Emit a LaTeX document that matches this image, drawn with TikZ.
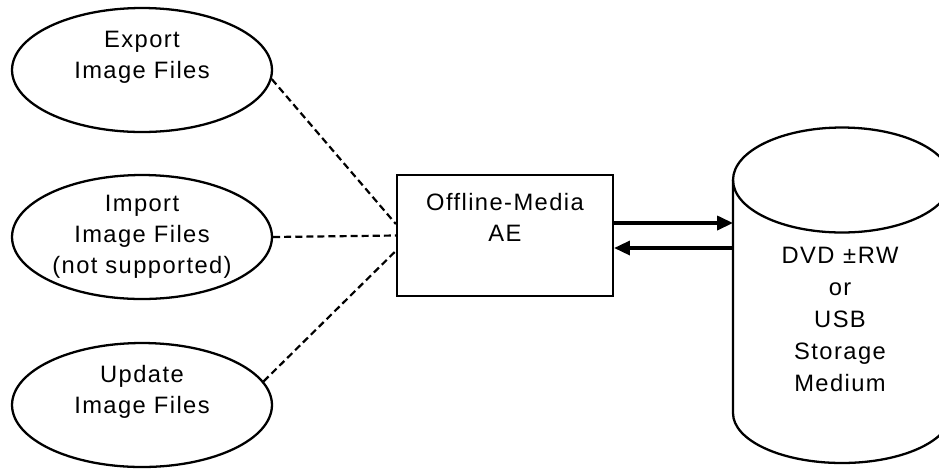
\documentclass[tikz,border=0pt]{standalone}
\usepackage{fontspec}
\setmainfont{Liberation Sans}[LetterSpace=6]
\usetikzlibrary{shapes.geometric,arrows.meta}

\begin{document}
\begin{tikzpicture}[x=0.02cm,y=-0.02cm]
    \tikzset{
        txt/.style={align=center,font=\fontsize{13.5}{17.5}\selectfont},
        useCase/.style={draw,ellipse,line width=1.3pt,minimum width=5.2cm,minimum height=2.48cm,inner sep=0pt},
        aeBox/.style={draw,rectangle,line width=1.3pt,minimum width=4.32cm,minimum height=2.42cm,inner sep=0pt},
        assoc/.style={line width=1.25pt,dash pattern=on 4pt off 2.3pt},
        flowArrow/.style={line width=1.8pt,-{Triangle[length=9pt,width=8pt]}}
    };
    \useasboundingbox (0,0) rectangle (939,468);
    % use cases
    \node[useCase,label={[txt,yshift=0.26cm]center:{Export\\Image Files}}] (export) at (142,70) {};
    \node[useCase,label={[txt]center:{Import\\Image Files\\(not supported)}}] (import) at (142,237) {};
    \node[useCase,label={[txt,yshift=0.26cm]center:{Update\\Image Files}}] (update) at (142,405) {};
    % application entity
    \node[aeBox,label={[txt,yshift=0.36cm]center:{Offline-Media\\AE}}] (ae) at (505,235.5) {};
    % storage medium
    \draw[line width=1.3pt] (733,180) -- (733,413) arc[start angle=180,end angle=360,x radius=2.18cm,y radius=1cm] -- (951,180);
    \draw[line width=1.3pt] (842,180) ellipse[x radius=2.18cm,y radius=1.05cm];
    \node[txt,font=\fontsize{13.5}{18.2}\selectfont] (medium) at (840,319) {DVD\hspace{5pt}±\hspace{1pt}RW\\or\\USB\\Storage\\Medium};
    \coordinate (drvIn) at (733,223);
    \coordinate (drvOut) at (733,248);
    % connectors
    \draw[assoc] (export.-4) -- (ae.174);
    \draw[assoc] (import.east) -- (ae.west);
    \draw[assoc] (update.11) -- (ae.188);
    \draw[flowArrow] (ae.east |- drvIn) -- (drvIn);
    \draw[flowArrow] (drvOut) -- (ae.east |- drvOut);
\end{tikzpicture}
\end{document}
